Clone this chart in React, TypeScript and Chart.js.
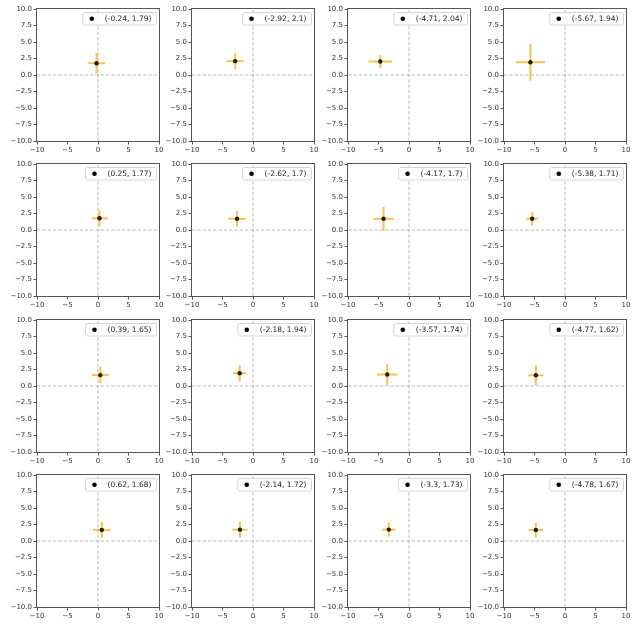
import React, { useEffect, useRef } from 'react';
import { Chart, registerables } from 'chart.js';

Chart.register(...registerables);

// Data (row-major, 4x4 panels)
const xValues = [-0.24, -2.92, -4.71, -5.67, 0.25, -2.62, -4.17, -5.38, 0.39, -2.18, -3.57, -4.77, 0.62, -2.14, -3.3, -4.78];
const yValues = [1.79, 2.1, 2.04, 1.94, 1.77, 1.7, 1.7, 1.71, 1.65, 1.94, 1.74, 1.62, 1.68, 1.72, 1.73, 1.67];
const xErrors = [1.44, 1.38, 1.94, 2.38, 1.32, 1.44, 1.69, 1.0, 1.38, 1.07, 1.69, 1.25, 1.44, 1.25, 1.07, 1.19];
const yErrors = [1.56, 1.25, 1.0, 2.8, 1.2, 1.15, 1.8, 1.05, 1.25, 1.25, 1.6, 1.5, 1.2, 1.2, 1.05, 1.1];
const xTicks = [-10, -5, 0, 5, 10];
const yTicks = [-10, -7.5, -5, -2.5, 0, 2.5, 5, 7.5, 10];

// Layout
const COL_LEFT = [37, 192, 348, 504];
const ROW_TOP = [9, 164, 320, 475];
const PLOT_W = 122;
const PLOT_H = 132;
const Y_AXIS_W = 34;
const X_AXIS_H = 16;
const PAD_T = 6;
const PAD_R = 8;
const FONT = '"DejaVu Sans", sans-serif';

const minus = (s: string) => s.replace('-', '\u2212');

function Panel({ idx }: { idx: number }) {
  const ref = useRef<HTMLCanvasElement | null>(null);
  const row = Math.floor(idx / 4);
  const col = idx % 4;
  const x = xValues[idx];
  const y = yValues[idx];
  const xe = xErrors[idx];
  const ye = yErrors[idx];
  const width = Y_AXIS_W + PLOT_W + PAD_R;
  const height = PAD_T + PLOT_H + X_AXIS_H;

  useEffect(() => {
    if (!ref.current) return;
    const label = `(${x}, ${y})`;
    const framePlugin = {
      id: 'frame',
      afterDraw(chart: any) {
        const { ctx, chartArea: a } = chart;
        ctx.save();
        ctx.strokeStyle = '#555';
        ctx.lineWidth = 1;
        ctx.strokeRect(Math.round(a.left) - 0.5, Math.round(a.top) - 0.5, Math.round(a.right - a.left) + 1, Math.round(a.bottom - a.top) + 1);
        // legend
        ctx.font = `7.5px ${FONT}`;
        const tw = ctx.measureText(label).width;
        const bw = tw + 27;
        const bh = 12.5;
        const bx = a.right - 2.5 - bw;
        const by = a.top + 3.5;
        ctx.beginPath();
        ctx.roundRect(bx, by, bw, bh, 2);
        ctx.fillStyle = 'rgba(255,255,255,0.85)';
        ctx.fill();
        ctx.strokeStyle = '#d6d6d6';
        ctx.lineWidth = 1;
        ctx.stroke();
        ctx.beginPath();
        ctx.arc(bx + 9, by + bh / 2, 2.3, 0, Math.PI * 2);
        ctx.fillStyle = '#000';
        ctx.fill();
        ctx.fillStyle = '#222';
        ctx.textBaseline = 'middle';
        ctx.textAlign = 'left';
        ctx.fillText(label, bx + 22, by + bh / 2 + 0.5);
        ctx.restore();
      },
    };
    const dashed = {
      borderColor: 'rgba(160,160,160,0.7)',
      borderWidth: 1,
      borderDash: [3.5, 1.8],
      pointRadius: 0,
      showLine: true,
    };
    const bar = {
      borderColor: 'rgba(255,165,0,0.7)',
      borderWidth: 2,
      pointRadius: 0,
      showLine: true,
    };
    const chart = new Chart(ref.current, {
      type: 'scatter',
      data: {
        datasets: [
          { data: [{ x, y }], pointRadius: 2.2, backgroundColor: 'rgba(0,0,0,0.85)', borderColor: 'rgba(0,0,0,0.85)', borderWidth: 0 },
          { ...bar, data: [{ x: x - xe, y }, { x: x + xe, y }] },
          { ...bar, data: [{ x, y: y - ye }, { x, y: y + ye }] },
          { ...dashed, data: [{ x: -10, y: 0 }, { x: 10, y: 0 }] },
          { ...dashed, data: [{ x: 0, y: -10 }, { x: 0, y: 10 }] },
        ] as any,
      },
      options: {
        responsive: false,
        animation: false,
        devicePixelRatio: 1,
        layout: { padding: { top: PAD_T, right: PAD_R, left: 0, bottom: 0 } },
        plugins: { legend: { display: false }, tooltip: { enabled: false } },
        scales: {
          x: {
            type: 'linear',
            min: -10,
            max: 10,
            afterBuildTicks: (s: any) => { s.ticks = xTicks.map((v) => ({ value: v })); },
            afterFit: (s: any) => { s.height = X_AXIS_H; },
            ticks: {
              autoSkip: false,
              maxRotation: 0,
              padding: 1,
              color: '#333',
              font: { family: FONT, size: 7 },
              callback: (v: any) => minus(String(v)),
            },
            grid: { drawOnChartArea: false, drawTicks: true, tickLength: 3.5, tickColor: '#555' },
            border: { display: false },
          },
          y: {
            type: 'linear',
            min: -10,
            max: 10,
            afterBuildTicks: (s: any) => { s.ticks = yTicks.map((v) => ({ value: v })); },
            afterFit: (s: any) => { s.width = Y_AXIS_W; },
            ticks: {
              autoSkip: false,
              padding: 1.5,
              color: '#333',
              font: { family: FONT, size: 7 },
              callback: (v: any) => minus(Number(v).toFixed(1)),
            },
            grid: { drawOnChartArea: false, drawTicks: true, tickLength: 3.5, tickColor: '#555' },
            border: { display: false },
          },
        },
      } as any,
      plugins: [framePlugin],
    });
    return () => chart.destroy();
  }, [idx]);

  return (
    <canvas
      ref={ref}
      width={width}
      height={height}
      style={{
        position: 'absolute',
        left: COL_LEFT[col] - Y_AXIS_W,
        top: ROW_TOP[row] - PAD_T,
        width,
        height,
      }}
    />
  );
}

export default function App() {
  return (
    <div style={{ position: 'absolute', left: 0, top: 0, width: 637, height: 626, background: '#fff' }}>
      {xValues.map((_, i) => (
        <Panel key={i} idx={i} />
      ))}
    </div>
  );
}
